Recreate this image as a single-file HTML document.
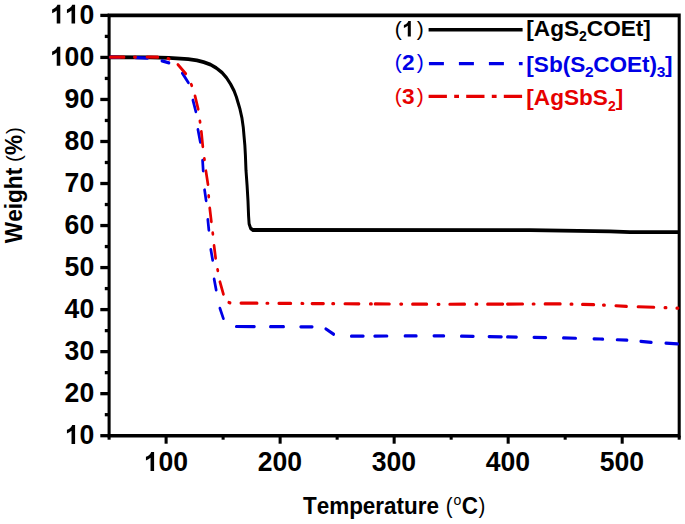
<!DOCTYPE html>
<html><head><meta charset="utf-8"><style>
html,body{margin:0;padding:0;background:#fff;}
svg{display:block;}
text{font-family:"Liberation Sans",sans-serif;font-weight:bold;font-kerning:none;}
.l{font-size:22.6px;}
.a{font-size:22.45px;}
.a2{font-size:22.65px;}
.reg{font-weight:normal;}
</style></head><body>
<svg width="685" height="524" viewBox="0 0 685 524">
<g transform="scale(0.85,1)">
<path d="M128.35,15.4 H799.06 V435.7 H128.35 Z" fill="none" stroke="#000" stroke-width="3.6" stroke-linejoin="miter"/>
<line x1="118.00" y1="435.70" x2="128.35" y2="435.70" stroke="#000" stroke-width="3.3"/>
<line x1="123.29" y1="414.69" x2="128.35" y2="414.69" stroke="#000" stroke-width="3.3"/>
<line x1="118.00" y1="393.67" x2="128.35" y2="393.67" stroke="#000" stroke-width="3.3"/>
<line x1="123.29" y1="372.65" x2="128.35" y2="372.65" stroke="#000" stroke-width="3.3"/>
<line x1="118.00" y1="351.64" x2="128.35" y2="351.64" stroke="#000" stroke-width="3.3"/>
<line x1="123.29" y1="330.62" x2="128.35" y2="330.62" stroke="#000" stroke-width="3.3"/>
<line x1="118.00" y1="309.61" x2="128.35" y2="309.61" stroke="#000" stroke-width="3.3"/>
<line x1="123.29" y1="288.60" x2="128.35" y2="288.60" stroke="#000" stroke-width="3.3"/>
<line x1="118.00" y1="267.58" x2="128.35" y2="267.58" stroke="#000" stroke-width="3.3"/>
<line x1="123.29" y1="246.56" x2="128.35" y2="246.56" stroke="#000" stroke-width="3.3"/>
<line x1="118.00" y1="225.55" x2="128.35" y2="225.55" stroke="#000" stroke-width="3.3"/>
<line x1="123.29" y1="204.53" x2="128.35" y2="204.53" stroke="#000" stroke-width="3.3"/>
<line x1="118.00" y1="183.52" x2="128.35" y2="183.52" stroke="#000" stroke-width="3.3"/>
<line x1="123.29" y1="162.50" x2="128.35" y2="162.50" stroke="#000" stroke-width="3.3"/>
<line x1="118.00" y1="141.49" x2="128.35" y2="141.49" stroke="#000" stroke-width="3.3"/>
<line x1="123.29" y1="120.47" x2="128.35" y2="120.47" stroke="#000" stroke-width="3.3"/>
<line x1="118.00" y1="99.46" x2="128.35" y2="99.46" stroke="#000" stroke-width="3.3"/>
<line x1="123.29" y1="78.44" x2="128.35" y2="78.44" stroke="#000" stroke-width="3.3"/>
<line x1="118.00" y1="57.43" x2="128.35" y2="57.43" stroke="#000" stroke-width="3.3"/>
<line x1="123.29" y1="36.41" x2="128.35" y2="36.41" stroke="#000" stroke-width="3.3"/>
<line x1="118.00" y1="15.40" x2="128.35" y2="15.40" stroke="#000" stroke-width="3.3"/>
<line x1="128.35" y1="435.7" x2="128.35" y2="439.7" stroke="#000" stroke-width="3.6"/>
<line x1="195.42" y1="435.7" x2="195.42" y2="443.7" stroke="#000" stroke-width="3.6"/>
<line x1="262.49" y1="435.7" x2="262.49" y2="439.7" stroke="#000" stroke-width="3.6"/>
<line x1="329.56" y1="435.7" x2="329.56" y2="443.7" stroke="#000" stroke-width="3.6"/>
<line x1="396.64" y1="435.7" x2="396.64" y2="439.7" stroke="#000" stroke-width="3.6"/>
<line x1="463.71" y1="435.7" x2="463.71" y2="443.7" stroke="#000" stroke-width="3.6"/>
<line x1="530.78" y1="435.7" x2="530.78" y2="439.7" stroke="#000" stroke-width="3.6"/>
<line x1="597.85" y1="435.7" x2="597.85" y2="443.7" stroke="#000" stroke-width="3.6"/>
<line x1="664.92" y1="435.7" x2="664.92" y2="439.7" stroke="#000" stroke-width="3.6"/>
<line x1="731.99" y1="435.7" x2="731.99" y2="443.7" stroke="#000" stroke-width="3.6"/>
<line x1="799.06" y1="435.7" x2="799.06" y2="439.7" stroke="#000" stroke-width="3.6"/>
<g transform="scale(0.9176,1)"><path d="M139.74,57.25 L192.31,57.30 L216.79,57.80 L241.28,59.10 L252.44,60.40 L261.15,62.20 L270.00,64.60 L277.31,68.00 L284.74,72.70 L290.51,77.90 L295.64,84.10 L300.13,90.90 L303.08,97.00 L305.26,102.70 L307.69,109.20 L310.26,118.30 L311.92,127.50 L312.95,136.70 L313.97,145.80 L314.62,155.00 L315.38,170.30 L316.79,185.50 L317.95,200.80 L318.72,216.10 L319.36,223.70 L321.28,228.30 L324.23,230.00 L679.49,230.10 L782.05,231.30 L807.69,232.10 L870.51,232.20" fill="none" stroke="#000" stroke-width="3.8" stroke-linejoin="round"/></g>
<path d="M129.88,57.22 L140.71,57.36 M159.88,57.64 L173.42,58.15 M190.53,60.88 L198.77,62.82 M214.59,73.24 L221.56,82.61 M227.01,100.23 L230.42,111.64 M232.89,129.58 L235.69,142.12 M238.33,160.40 L239.08,171.00 M240.70,189.99 L242.47,200.61 M244.51,219.59 L245.72,230.11 M248.05,249.58 L250.19,260.12 M251.95,279.18 L254.29,289.82 M258.76,308.33 L262.77,318.47 M278.00,326.50 L299.29,326.59 M318.12,326.66 L333.65,326.72 M353.76,326.80 L367.29,326.85 M383.34,328.86 L392.55,334.25 M413.29,336.14 L427.41,336.10 M440.82,336.05 L455.29,336.00 M476.47,335.94 L489.76,335.89 M510.47,335.82 L517.65,335.80 L522.12,335.86 M542.71,336.15 L556.82,336.35 M575.29,336.60 L589.88,336.81 M596.94,336.90 L607.65,337.05 M628.12,337.34 L642.12,337.53 M662.82,337.84 L677.29,338.23 M698.71,338.81 L705.88,339.00 L709.18,339.12 M726.00,339.73 L737.65,340.16 M753.88,341.37 L766.24,342.34 M783.29,343.22 L797.18,343.92" fill="none" stroke="#0000e6" stroke-width="3.2" stroke-linejoin="round" stroke-linecap="round"/>
<path d="M129.88,57.19 L145.88,57.12 M158.12,57.06 L159.53,57.06 M172.94,57.02 L185.65,57.18 M197.65,58.51 L198.35,58.60 L198.96,58.91 M209.36,64.60 L218.43,73.73 M225.05,84.48 L225.29,84.90 L225.56,85.59 M229.45,96.06 L233.16,109.11 M235.20,121.01 L235.29,121.60 L235.39,122.19 M236.89,131.58 L238.60,146.64 M240.38,158.51 L240.47,159.10 L240.56,159.70 M242.25,170.98 L244.69,184.42 M245.50,195.70 L245.53,196.30 L245.59,196.89 M246.78,208.19 L248.63,221.61 M250.27,232.90 L250.35,233.50 L250.42,234.10 M251.85,245.69 L253.68,258.21 M255.99,269.51 L256.12,270.10 L256.24,270.69 M258.80,281.95 L262.85,294.15 M269.24,302.46 L270.65,302.87 M283.41,303.10 L302.47,303.20 M313.88,303.26 L315.29,303.27 M328.00,303.33 L342.12,303.40 M355.06,303.47 L356.47,303.48 M367.06,303.53 L380.59,303.60 M391.29,303.66 L392.71,303.66 M405.76,303.73 L422.35,303.81 M435.65,303.88 L437.06,303.89 M441.29,303.91 L458.12,304.00 M471.29,304.06 L472.71,304.07 M485.29,304.13 L502.12,304.22 M515.18,304.29 L516.59,304.29 M529.06,304.27 L546.71,304.22 M559.76,304.18 L561.18,304.18 M573.53,304.14 L591.53,304.09 M596.94,304.08 L614.94,304.02 M627.06,303.99 L628.47,303.99 M641.18,303.95 L658.82,303.90 L659.18,303.91 M671.65,304.12 L673.06,304.15 M685.18,304.36 L698.59,304.60 M709.77,305.07 L710.59,305.10 L711.18,305.13 M724.47,305.74 L737.06,306.32 M750.59,306.73 L769.30,307.26 M782.24,307.67 L783.65,307.72 M796.24,308.12 L797.65,308.16" fill="none" stroke="#e60000" stroke-width="3.2" stroke-linejoin="round" stroke-linecap="round"/>
</g>
<g transform="translate(0,443.90) scale(1,1.035)"><text x="64.60 79.40" y="0" font-size="26.6" fill="#000"><tspan fill="transparent">1</tspan>0</text><path d="M75.09,0.00 L71.53,0.00 L71.53,-12.68 Q69.58,-10.94 66.93,-10.05 L66.93,-13.61 Q68.32,-14.04 69.95,-15.20 Q71.59,-16.43 72.20,-18.30 L75.09,-18.30 Z" fill="#000"/></g>
<g transform="translate(0,401.87) scale(1,1.035)"><text x="64.60 79.40" y="0" font-size="26.6" fill="#000">20</text></g>
<g transform="translate(0,359.84) scale(1,1.035)"><text x="64.60 79.40" y="0" font-size="26.6" fill="#000">30</text></g>
<g transform="translate(0,317.81) scale(1,1.035)"><text x="64.60 79.40" y="0" font-size="26.6" fill="#000">40</text></g>
<g transform="translate(0,275.78) scale(1,1.035)"><text x="64.60 79.40" y="0" font-size="26.6" fill="#000">50</text></g>
<g transform="translate(0,233.75) scale(1,1.035)"><text x="64.60 79.40" y="0" font-size="26.6" fill="#000">60</text></g>
<g transform="translate(0,191.72) scale(1,1.035)"><text x="64.60 79.40" y="0" font-size="26.6" fill="#000">70</text></g>
<g transform="translate(0,149.69) scale(1,1.035)"><text x="64.60 79.40" y="0" font-size="26.6" fill="#000">80</text></g>
<g transform="translate(0,107.66) scale(1,1.035)"><text x="64.60 79.40" y="0" font-size="26.6" fill="#000">90</text></g>
<g transform="translate(0,65.63) scale(1,1.035)"><text x="49.81 64.60 79.40" y="0" font-size="26.6" fill="#000"><tspan fill="transparent">1</tspan>00</text><path d="M60.29,0.00 L56.73,0.00 L56.73,-12.68 Q54.78,-10.94 52.13,-10.05 L52.13,-13.61 Q53.52,-14.04 55.16,-15.20 Q56.80,-16.43 57.41,-18.30 L60.29,-18.30 Z" fill="#000"/></g>
<g transform="translate(0,23.60) scale(1,1.035)"><text x="49.81 64.60 79.40" y="0" font-size="26.6" fill="#000"><tspan fill="transparent">1</tspan><tspan fill="transparent">1</tspan>0</text><path d="M60.29,0.00 L56.73,0.00 L56.73,-12.68 Q54.78,-10.94 52.13,-10.05 L52.13,-13.61 Q53.52,-14.04 55.16,-15.20 Q56.80,-16.43 57.41,-18.30 L60.29,-18.30 Z" fill="#000"/><path d="M75.09,0.00 L71.53,0.00 L71.53,-12.68 Q69.58,-10.94 66.93,-10.05 L66.93,-13.61 Q68.32,-14.04 69.95,-15.20 Q71.59,-16.43 72.20,-18.30 L75.09,-18.30 Z" fill="#000"/></g>
<g transform="translate(0,470.90) scale(1,1.035)"><text x="143.62 158.41 173.21" y="0" font-size="26.6" fill="#000"><tspan fill="transparent">1</tspan>00</text><path d="M154.10,0.00 L150.54,0.00 L150.54,-12.68 Q148.59,-10.94 145.94,-10.05 L145.94,-13.61 Q147.33,-14.04 148.97,-15.20 Q150.61,-16.43 151.22,-18.30 L154.10,-18.30 Z" fill="#000"/></g>
<g transform="translate(0,470.90) scale(1,1.035)"><text x="257.64 272.43 287.23" y="0" font-size="26.6" fill="#000">200</text></g>
<g transform="translate(0,470.90) scale(1,1.035)"><text x="371.66 386.45 401.25" y="0" font-size="26.6" fill="#000">300</text></g>
<g transform="translate(0,470.90) scale(1,1.035)"><text x="485.68 500.47 515.27" y="0" font-size="26.6" fill="#000">400</text></g>
<g transform="translate(0,470.90) scale(1,1.035)"><text x="599.70 614.49 629.29" y="0" font-size="26.6" fill="#000">500</text></g>
<line x1="428.6" y1="29.8" x2="522.6" y2="29.8" stroke="#000" stroke-width="3.6"/>
<line x1="428.6" y1="63.6" x2="522.6" y2="63.6" stroke="#0000e6" stroke-width="3.1" stroke-dasharray="15 15" stroke-dashoffset="-0.3"/>
<line x1="428.6" y1="96.3" x2="522.6" y2="96.3" stroke="#e60000" stroke-width="3.3" stroke-dasharray="18.3 7.3 4.8 7.2"/>
<g transform="translate(0,36.60) scale(1,1.0)"><text y="0" font-size="22.6" fill="#000"><tspan class="reg" x="394.70" dy="-0.6" font-size="21.0">(</tspan><tspan fill="transparent" x="401.90" dy="0.6">1</tspan><tspan class="reg" x="416.70" dy="-0.6" font-size="21.0">)</tspan></text><path d="M410.81,0.00 L407.78,0.00 L407.78,-10.78 Q406.13,-9.29 403.88,-8.54 L403.88,-11.56 Q405.06,-11.93 406.45,-12.92 Q407.84,-13.96 408.36,-15.55 L410.81,-15.55 Z" fill="#000"/></g>
<g transform="translate(0,69.80) scale(1,1.0)"><text y="0" font-size="22.6" fill="#0000e6"><tspan class="reg" x="394.70" dy="-0.6" font-size="21.0">(</tspan><tspan x="401.90" dy="0.6">2</tspan><tspan class="reg" x="416.70" dy="-0.6" font-size="21.0">)</tspan></text></g>
<g transform="translate(0,103.80) scale(1,1.0)"><text y="0" font-size="22.6" fill="#e60000"><tspan class="reg" x="394.70" dy="-0.6" font-size="21.0">(</tspan><tspan x="401.90" dy="0.6">3</tspan><tspan class="reg" x="416.70" dy="-0.6" font-size="21.0">)</tspan></text></g>
<g transform="translate(0,35.90) scale(1,1.0)"><text x="526.3" y="0" class="l">[AgS<tspan font-size="14" dy="5.5">2</tspan><tspan dy="-5.5">COEt]</tspan></text></g>
<g transform="translate(0,71.50) scale(1,1.0)"><text x="526.3" y="0" class="l" fill="#0000e6">[Sb(S<tspan font-size="15.5" dy="5.9" dx="-0.3">2</tspan><tspan dy="-5.9" dx="-0.5">COEt)</tspan><tspan font-size="15.5" dy="5.9" dx="-0.3">3</tspan><tspan dy="-5.9" dx="-0.5">]</tspan></text></g>
<g transform="translate(0,105.00) scale(1,1.0)"><text x="526.3" y="0" class="l" fill="#e60000">[AgSbS<tspan font-size="14" dy="5.5">2</tspan><tspan dy="-5.5">]</tspan></text></g>
<g transform="translate(0,513.80) scale(1,1.04)"><text x="303" y="0" class="a">Temperature <tspan class="reg" x="445.8" dy="-0.6" font-size="20.5">(</tspan><tspan x="453.5" font-size="14" dy="-8.3" class="reg">o</tspan><tspan x="461.8" dy="8.9">C</tspan><tspan class="reg" x="478.6" dy="-0.6" font-size="20.5">)</tspan></text></g>
<text transform="translate(21.8,243.2) rotate(-90) scale(1,1.02)" x="0" y="0" class="a2">Weight <tspan class="reg" font-size="20.6" dx="-0.4" dy="-0.7">(</tspan><tspan dy="0.7">%</tspan><tspan class="reg" font-size="20.6" dx="0.8" dy="-0.7">)</tspan></text>
</svg>
</body></html>
